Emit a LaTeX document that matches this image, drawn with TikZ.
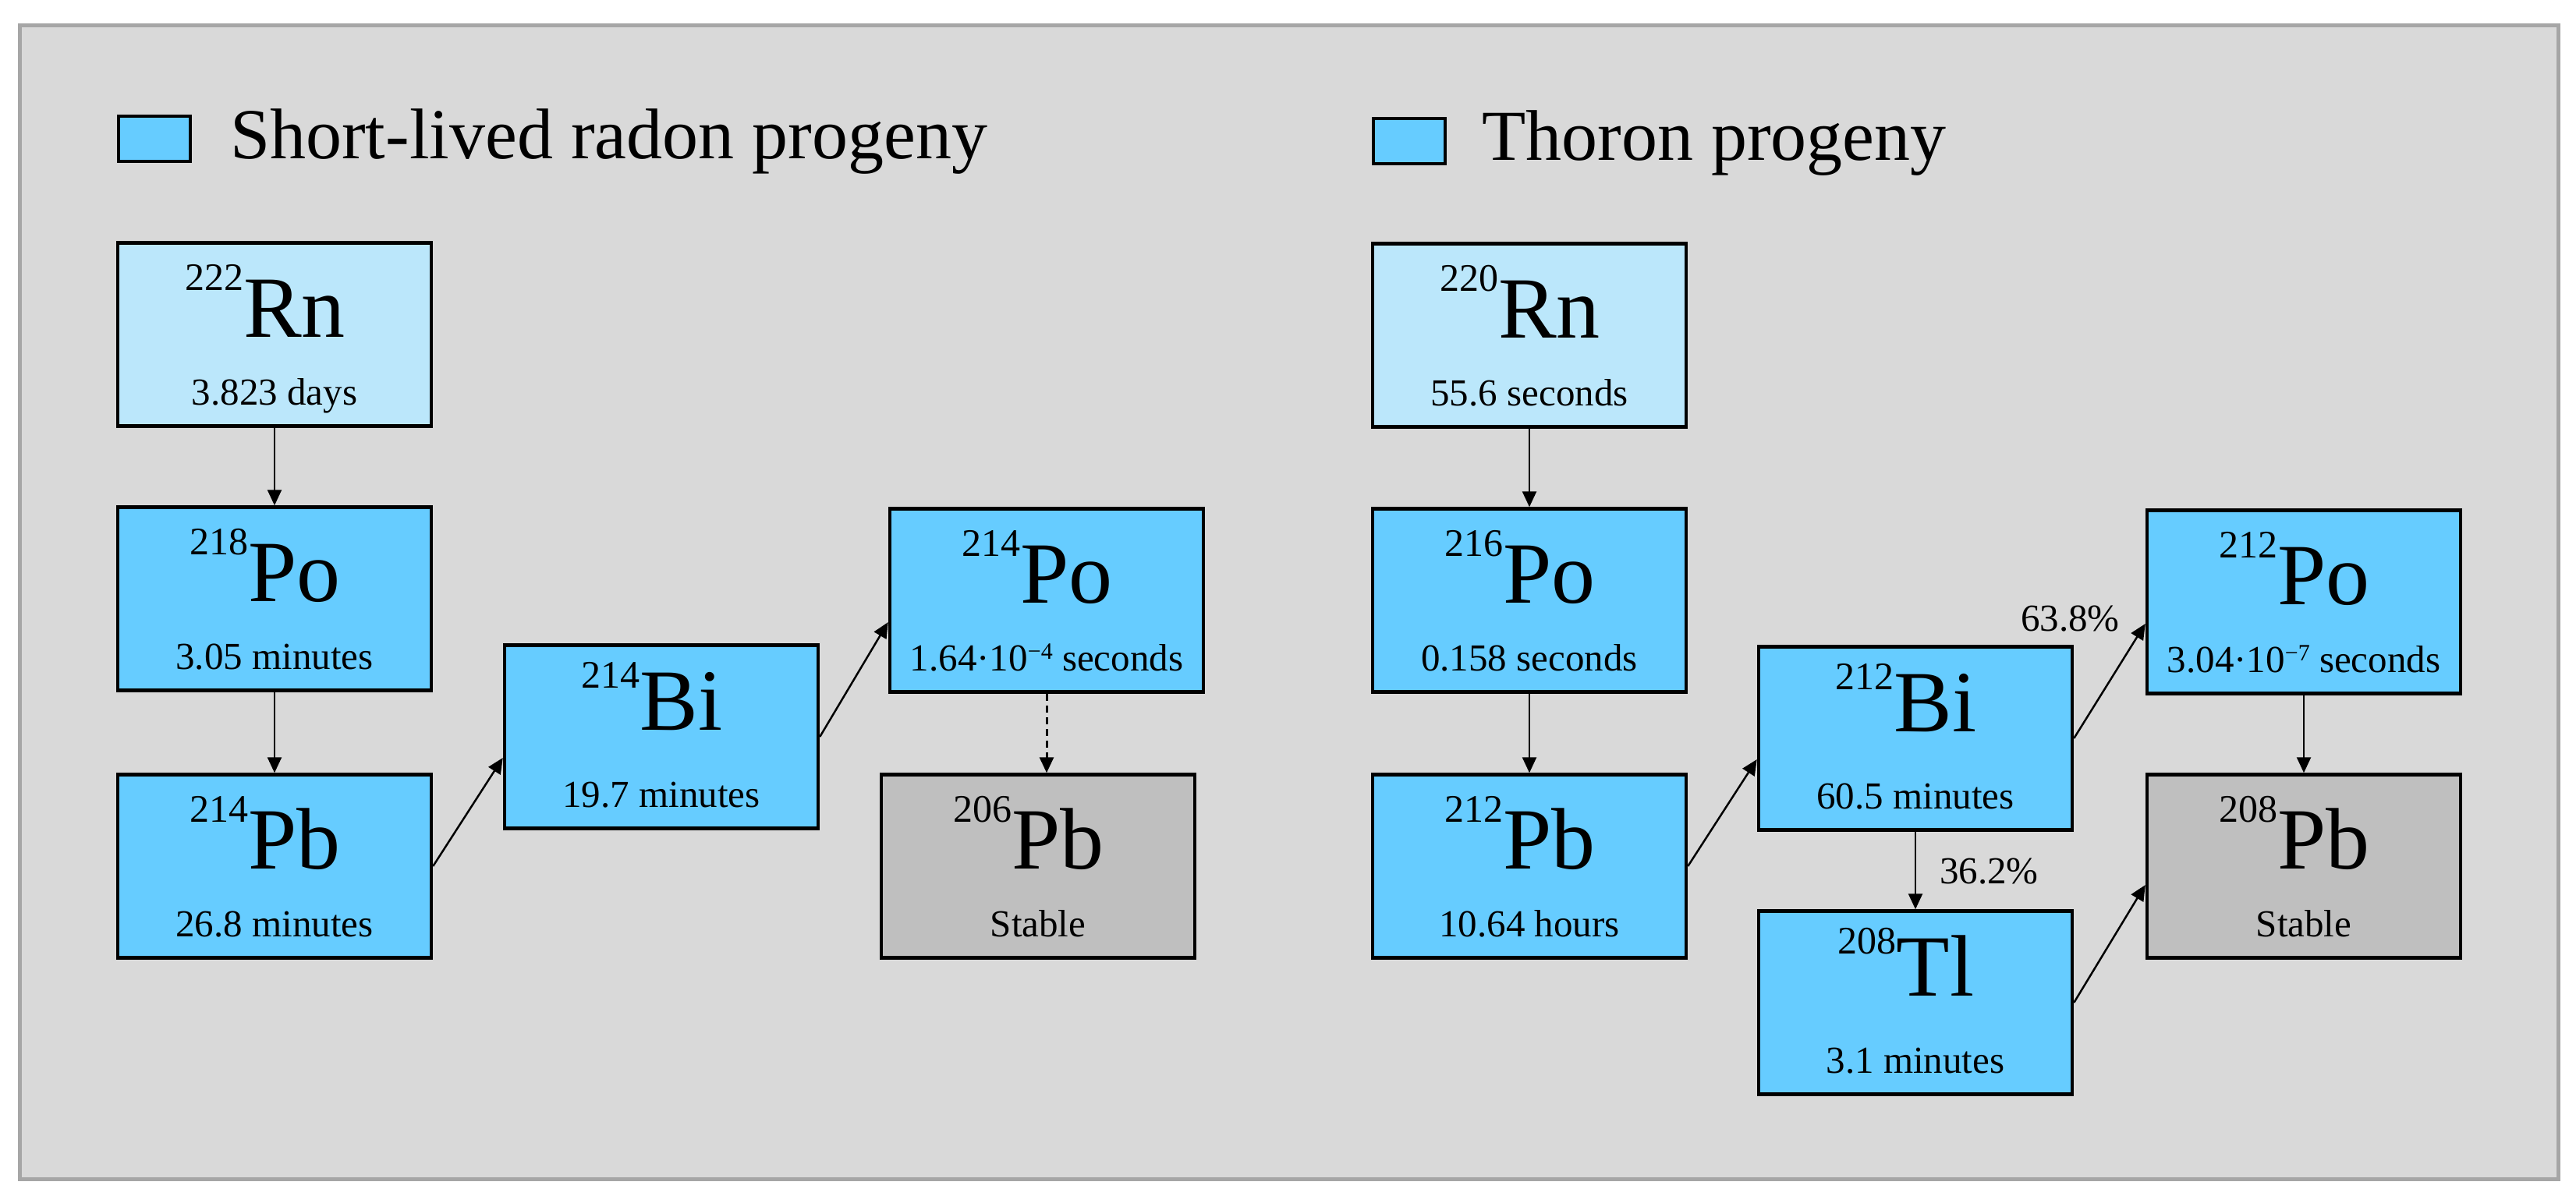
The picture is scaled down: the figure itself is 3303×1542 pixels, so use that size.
\documentclass[tikz,border=0pt]{standalone}
\usepackage{fontspec}
\setmainfont{Liberation Serif}
\usetikzlibrary{arrows.meta}
\definecolor{bgc}{HTML}{D9D9D9}
\definecolor{framec}{HTML}{A6A6A6}
\definecolor{bluec}{HTML}{66CCFF}
\definecolor{lightc}{HTML}{BBE7FB}
\definecolor{grayc}{HTML}{BFBFBF}
\newcommand\nucsymfont{\fontsize{112}{112}\selectfont}
\newcommand\nucmassfont{\fontsize{50}{50}\selectfont}
\newcommand\nuchlfont{\fontsize{49}{49}\selectfont}
\newcommand\nuclegfont{\fontsize{92}{92}\selectfont}
\newcommand\nucexp[1]{\raisebox{15pt}{\fontsize{30}{30}\selectfont #1}}
\tikzset{
  nucbox/.style={draw=black, line width=4.5pt, minimum width=402pt, minimum height=235pt, inner sep=0pt},
  txt/.style={inner sep=0pt, anchor=base},
  decay/.style={line width=2.5pt, -{Triangle[length=20pt,width=18pt]}},
  legbox/.style={draw=black, line width=4.5pt, fill=bluec, minimum width=92pt, minimum height=58pt, inner sep=0pt}
}
% #1 name, #2 x, #3 y, #4 fill, #5 mass, #6 symbol, #7 half-life, #8 symbol baseline offset, #9 mass raise
\newcommand\nuc[9]{%
  \node[nucbox, fill=#4] (#1) at (#2,#3) {};
  \node[txt, xshift=-12pt] (#1-s) at ([yshift=-#8pt]#1.north) {\nucmassfont\raisebox{#9pt}{#5}\nucsymfont #6};
  \node[txt] (#1-h) at ([yshift=-210pt]#1.north) {\nuchlfont #7};
}
\begin{document}
\begin{tikzpicture}[x=1pt,y=-1pt]
\useasboundingbox (0,0) rectangle (3303,1542);
\fill[white] (0,0) rectangle (3303,1542);
\draw[framec, fill=bgc, line width=5pt] (25,32) rectangle (3280,1512);

% legends
\node[legbox] (leg1) at (198,178) {};
\node[txt, anchor=base west] (leg1t) at (295,203) {\nuclegfont Short-lived radon progeny};
\node[legbox] (leg2) at (1807,181) {};
\node[txt, anchor=base west] (leg2t) at (1900,205) {\nuclegfont Thoron progeny};

% radon chain
\nuc{Rn222}{352}{429}{lightc}{222}{Rn}{3.823 days}{123}{60}
\nuc{Po218}{352}{768}{bluec}{218}{Po}{3.05 minutes}{123}{60}
\nuc{Pb214}{352}{1111}{bluec}{214}{Pb}{26.8 minutes}{123}{60}
\nuc{Bi214}{848}{945}{bluec}{214}{Bi}{19.7 minutes}{111}{54}
\nuc{Po214}{1342}{770}{bluec}{214}{Po}{1.64·10\nucexp{−4} seconds}{123}{60}
\nuc{Pb206}{1331}{1111}{grayc}{206}{Pb}{Stable}{123}{60}

% thoron chain
\nuc{Rn220}{1961}{430}{lightc}{220}{Rn}{55.6 seconds}{123}{60}
\nuc{Po216}{1961}{770}{bluec}{216}{Po}{0.158 seconds}{123}{60}
\nuc{Pb212}{1961}{1111}{bluec}{212}{Pb}{10.64 hours}{123}{60}
\nuc{Bi212}{2456}{947}{bluec}{212}{Bi}{60.5 minutes}{111}{54}
\nuc{Tl208}{2456}{1286}{bluec}{208}{Tl}{3.1 minutes}{111}{54}
\nuc{Po212}{2954}{772}{bluec}{212}{Po}{3.04·10\nucexp{−7} seconds}{123}{60}
\nuc{Pb208}{2954}{1111}{grayc}{208}{Pb}{Stable}{123}{60}

% connectors radon
\draw[decay] (Rn222) -- (Po218);
\draw[decay] (Po218) -- (Pb214);
\draw[decay] (Pb214.east) -- ([yshift=-27pt]Bi214.west);
\draw[decay] (Bi214.east) -- ([yshift=-28pt]Po214.west);
\draw[decay, dashed, dash pattern=on 9pt off 6pt, line width=3pt] (Po214.south) -- (Po214.south |- Pb206.north);

% connectors thoron
\draw[decay] (Rn220) -- (Po216);
\draw[decay] (Po216) -- (Pb212);
\draw[decay] (Pb212.east) -- ([yshift=-27pt]Bi212.west);
\draw[decay] (Bi212.east) -- ([yshift=-28pt]Po212.west);
\draw[decay] (Bi212) -- (Tl208);
\draw[decay] (Tl208.east) -- ([yshift=-24pt]Pb208.west);
\draw[decay] (Po212) -- (Pb208);

\node[txt, anchor=base east] (p638) at ([xshift=-33pt,yshift=-37pt]Po212.west) {\nuchlfont 63.8\%};
\node[txt, anchor=base west] (p362) at ([xshift=31pt,yshift=-67pt]Bi212.south) {\nuchlfont 36.2\%};
\end{tikzpicture}
\end{document}
